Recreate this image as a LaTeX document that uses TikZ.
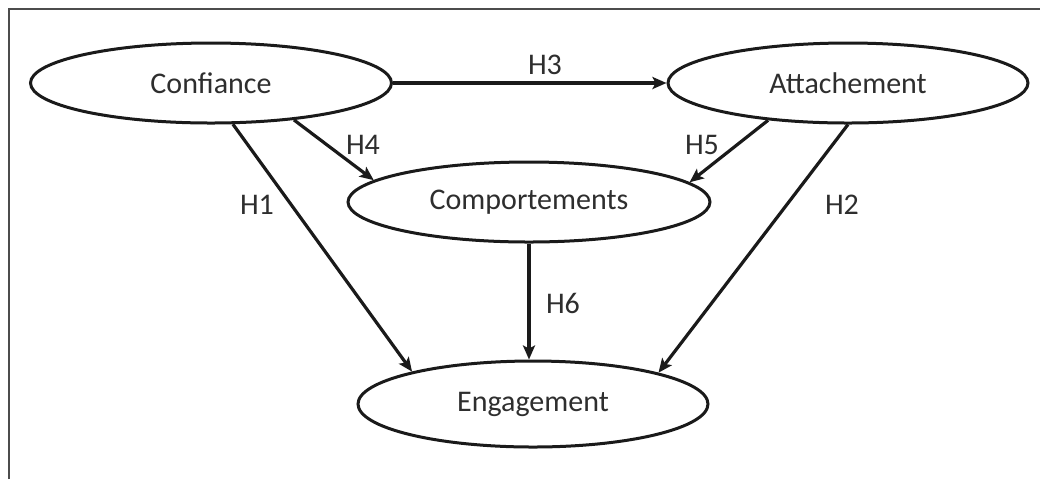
\documentclass[tikz,border=0pt]{standalone}
\usepackage{fontspec}
\setmainfont{Carlito}
\usetikzlibrary{shapes.geometric,arrows.meta}
\definecolor{txt}{HTML}{2E2E2E}
\definecolor{ln}{HTML}{1A1A1A}
\begin{document}
\begin{tikzpicture}[x=0.5pt,y=-0.5pt,
  oval/.style={ellipse,draw=ln,line width=1.5pt,inner sep=0pt,fill=white,
    font=\fontsize{15}{18}\selectfont,text=txt},
  arr/.style={draw=ln,line width=1.6pt,-{Stealth[length=7pt,width=6pt,inset=1.5pt]}},
  lab/.style={font=\fontsize{15}{18}\selectfont,text=txt,inner sep=0pt}]
\useasboundingbox (0,0) rectangle (1040,479);
\draw[color=black!70,line width=1.1pt] (9,479) -- (9,9) -- (1040,9);
\node[oval,minimum width=180.5pt,minimum height=40pt] (conf) at (211,83) {Confiance};
\node[oval,minimum width=180pt,minimum height=40pt] (att) at (848,83) {Attachement};
\node[oval,minimum width=181pt,minimum height=40pt] (comp) at (529,202) {Comportements};
\node[oval,minimum width=175pt,minimum height=43pt] (eng) at (533,404) {Engagement};
\draw[arr] (conf.east) -- (att.west);
\draw[arr] (conf.-62) -- (eng.165.5);
\draw[arr] (conf.-24.5) -- (comp.172.6);
\draw[arr] (att.-155.2) -- (comp.7);
\draw[arr] (att.-90) -- (eng.14.3);
\draw[arr] (comp.south) -- (comp.south |- eng.north);
\node[lab] (h3) at (545,65) {H3};
\node[lab] (h4) at (363,145) {H4};
\node[lab] (h5) at (702,145) {H5};
\node[lab] (h1) at (257,205) {H1};
\node[lab] (h2) at (842,205) {H2};
\node[lab] (h6) at (563,303) {H6};
\end{tikzpicture}
\end{document}
